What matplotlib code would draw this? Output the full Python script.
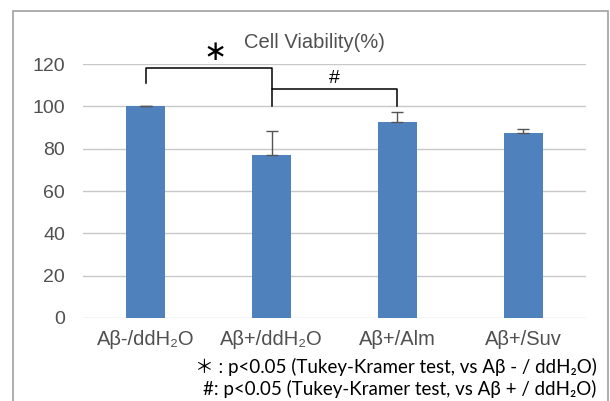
import matplotlib.pyplot as plt
from matplotlib.patches import Rectangle

# Data
groups = ['Aβ-/ddH₂O', 'Aβ+/ddH₂O', 'Aβ+/Alm', 'Aβ+/Suv']
viability = [100, 77, 92.6, 87.4]
err_plus = [0.4, 11.3, 4.7, 1.9]
yticks = [0, 20, 40, 60, 80, 100, 120]

fig = plt.figure(figsize=(6.1, 4.01), dpi=100)
ax = fig.add_axes([0.136, 0.207, 0.825, 0.633])

x = range(len(groups))
ax.bar(x, viability, width=0.31, color='#4F81BD', zorder=3,
       yerr=[[0] * len(groups), err_plus],
       error_kw=dict(ecolor='#555555', elinewidth=1, capsize=4, capthick=1))

ax.set_xlim(-0.5, 3.5)
ax.set_ylim(0, 120)
ax.set_yticks(yticks)
ax.set_xticks(list(x))
ax.set_xticklabels(groups, fontsize=14.5, color='#505050', family='Liberation Sans')
for lbl in ax.get_yticklabels():
    lbl.set_fontsize(14)
    lbl.set_family('Liberation Sans')
    lbl.set_color('#505050')
ax.tick_params(axis='both', length=0)
ax.tick_params(axis='y', pad=13)
ax.tick_params(axis='x', pad=9)
ax.grid(axis='y', color='#C8C8C8', lw=1, zorder=0)
for s in ax.spines.values():
    s.set_visible(False)

# significance brackets
ax.plot([0, 0, 1, 1], [111, 118.1, 118.1, 108.2], color='black', lw=1.1, clip_on=False)
ax.plot([1, 1, 2, 2], [100.1, 108.2, 108.2, 100.1], color='black', lw=1.1, clip_on=False)
ax.text(0.55, 125.6, '∗', fontsize=20, ha='center', va='center', clip_on=False)
ax.text(1.5, 113.4, '#', fontsize=14, ha='center', va='center', family='Liberation Sans')

fig.text(0.516, 0.895, 'Cell Viability(%)', fontsize=14.5, color='#505050',
         ha='center', va='center', family='Liberation Sans')

foot_font = ['Lato', 'Noto Sans CJK JP', 'DejaVu Sans']
fig.text(0.978, 0.085, '＊ : p<0.05 (Tukey-Kramer test, vs Aβ - / ddH₂O)', fontsize=13.5,
         ha='right', va='center', family=foot_font)
fig.text(0.978, 0.030, '#: p<0.05 (Tukey-Kramer test, vs Aβ + / ddH₂O)', fontsize=13.5,
         ha='right', va='center', family=foot_font)

# outer chart border (cut off at the bottom)
fig.patches.append(Rectangle((13 / 610, -0.1), 595 / 610, 1.0 - 10.5 / 401 + 0.1,
                             transform=fig.transFigure, fill=False,
                             edgecolor='#A0A0A0', lw=1.2))

fig.savefig('out.png', dpi=100)
